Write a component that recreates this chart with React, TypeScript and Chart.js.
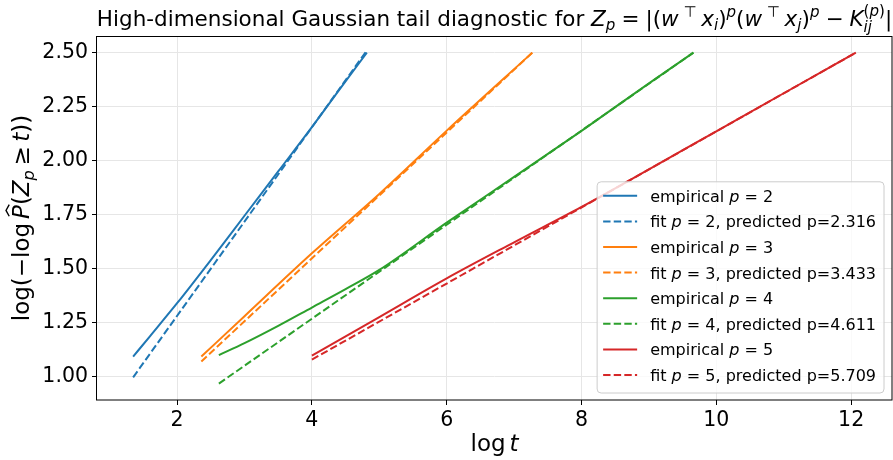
import React, { useEffect, useRef } from "react";
import { Chart, registerables } from "chart.js";

Chart.register(...registerables);

const FONT = "'DejaVu Sans', 'Liberation Sans', sans-serif";

const pValues = [2, 3, 4, 5];
const predictedP = ["2.316", "3.433", "4.611", "5.709"];
const seriesColors = ["#1f77b4", "#ff7f0e", "#2ca02c", "#d62728"];

const emp2X = [1.348, 1.6, 2.0, 2.5, 3.0, 3.5, 4.0, 4.4, 4.815];
const emp2Y = [1.093, 1.188, 1.34, 1.54, 1.745, 1.95, 2.155, 2.325, 2.5];
const fit2X = [1.348, 4.815];
const fit2Y = [0.997, 2.51];

const emp3X = [2.36, 3.0, 4.0, 5.0, 6.0, 7.27];
const emp3Y = [1.093, 1.28, 1.571, 1.846, 2.139, 2.5];
const fit3X = [2.36, 7.27];
const fit3Y = [1.07, 2.5];

const emp4X = [2.62, 3.0, 3.5, 4.0, 4.5, 5.0, 6.0, 7.0, 8.0, 9.0, 9.66];
const emp4Y = [1.1, 1.155, 1.235, 1.32, 1.405, 1.494, 1.713, 1.925, 2.138, 2.358, 2.5];
const fit4X = [2.62, 9.66];
const fit4Y = [0.968, 2.5];

const emp5X = [4.0, 5.0, 6.0, 7.0, 8.0, 9.0, 10.0, 11.0, 12.07];
const emp5Y = [1.097, 1.276, 1.455, 1.622, 1.786, 1.96, 2.136, 2.312, 2.5];
const fit5X = [4.0, 12.07];
const fit5Y = [1.079, 2.5];

const empX = [emp2X, emp3X, emp4X, emp5X];
const empY = [emp2Y, emp3Y, emp4Y, emp5Y];
const fitX = [fit2X, fit3X, fit4X, fit5X];
const fitY = [fit2Y, fit3Y, fit4Y, fit5Y];

const xTicks = [2, 4, 6, 8, 10, 12];
const yTicks = [1.0, 1.25, 1.5, 1.75, 2.0, 2.25, 2.5];
const xRange = [0.812, 12.606];
const yRange = [0.892, 2.577];

type Seg = {
  t: string;
  it?: boolean;
  s?: number;
  dy?: number;
  hat?: boolean;
  mark?: boolean;
  back?: boolean;
  end?: boolean;
  pl?: number;
  pr?: number;
};

const N = (t: string, o: Partial<Seg> = {}): Seg => ({ t, ...o });
const I = (t: string, o: Partial<Seg> = {}): Seg => ({ t, it: true, ...o });
const SUB = (t: string, o: Partial<Seg> = {}): Seg => ({ t, it: true, s: 0.7, dy: 0.2, ...o });
const SUP = (t: string, o: Partial<Seg> = {}): Seg => ({ t, it: true, s: 0.7, dy: -0.42, ...o });

function rich(ctx: CanvasRenderingContext2D, segs: Seg[], x: number, y: number, size: number, draw: boolean): number {
  let cx = x;
  let markX = x;
  let stackMax = x;
  let maxX = x;
  for (const g of segs) {
    const fs = size * (g.s ?? 1);
    ctx.font = `${g.it ? "italic " : ""}${fs}px ${FONT}`;
    if (g.back) {
      stackMax = cx;
      cx = markX;
    }
    cx += (g.pl ?? 0) * size;
    if (g.mark) markX = cx;
    const w = ctx.measureText(g.t).width;
    const yy = y + (g.dy ?? 0) * size;
    if (draw) {
      ctx.fillText(g.t, cx, yy);
      if (g.hat) {
        const c = cx + w * 0.62;
        const hw = w * 0.42;
        ctx.save();
        ctx.beginPath();
        ctx.lineWidth = fs * 0.06;
        ctx.strokeStyle = ctx.fillStyle as string;
        ctx.moveTo(c - hw, yy - fs * 0.86);
        ctx.lineTo(c, yy - fs * 1.0);
        ctx.lineTo(c + hw, yy - fs * 0.86);
        ctx.stroke();
        ctx.restore();
      }
    }
    cx += w + (g.pr ?? 0) * size;
    if (g.end) cx = Math.max(cx, stackMax);
    maxX = Math.max(maxX, cx);
  }
  return maxX - x;
}

const REL = { pl: 0.28, pr: 0.28 };
const TOP = { it: false, pl: 0.22, pr: 0.22 };

const titleSegs: Seg[] = [
  N("High-dimensional Gaussian tail diagnostic for "),
  I("Z"),
  SUB("p"),
  N("=", REL),
  N("|("),
  I("w"),
  SUP("⊤", TOP),
  I("x"),
  SUB("i"),
  N(")"),
  SUP("p"),
  N("("),
  I("w"),
  SUP("⊤", TOP),
  I("x"),
  SUB("j"),
  N(")"),
  SUP("p"),
  N("−", REL),
  I("K"),
  SUB("ij", { mark: true, dy: 0.28 }),
  SUP("(", { back: true, it: false, dy: -0.45 }),
  SUP("p", { dy: -0.45 }),
  SUP(")", { it: false, dy: -0.45, end: true }),
  N("|"),
];

const ylabelSegs: Seg[] = [
  N("log(−log"),
  I("P", { hat: true, pl: 0.17 }),
  N("("),
  I("Z"),
  SUB("p"),
  N("≥", { pl: 0.2, pr: 0.2 }),
  I("t"),
  N("))"),
];

const xlabelSegs: Seg[] = [N("log"), I("t", { pl: 0.17 })];

function legendSegs(i: number): Seg[] {
  const k = Math.floor(i / 2);
  if (i % 2 === 0) return [N("empirical "), I("p"), N(" = " + pValues[k])];
  return [N("fit "), I("p"), N(" = " + pValues[k] + ", predicted p=" + predictedP[k])];
}

const TITLE_SIZE = 21.5;
const LABEL_SIZE = 23;

const decorPlugin = {
  id: "decor",
  afterDraw(chart: any) {
    const ctx: CanvasRenderingContext2D = chart.ctx;
    const a = chart.chartArea;
    const cxm = (a.left + a.right) / 2;
    ctx.save();
    // frame
    ctx.strokeStyle = "#000";
    ctx.lineWidth = 1;
    ctx.strokeRect(a.left - 0.5, a.top + 0.5, a.right - a.left + 0.5, a.bottom - a.top - 0.5);

    ctx.fillStyle = "#000";
    ctx.textBaseline = "alphabetic";
    ctx.textAlign = "left";
    // title
    const tw = rich(ctx, titleSegs, 0, 0, TITLE_SIZE, false);
    rich(ctx, titleSegs, cxm - tw / 2, 26, TITLE_SIZE, true);
    // x label
    const xw = rich(ctx, xlabelSegs, 0, 0, LABEL_SIZE, false);
    rich(ctx, xlabelSegs, cxm - xw / 2, 451, LABEL_SIZE, true);
    // y label
    const yw = rich(ctx, ylabelSegs, 0, 0, LABEL_SIZE, false);
    ctx.save();
    ctx.translate(29, (a.top + a.bottom) / 2);
    ctx.rotate(-Math.PI / 2);
    rich(ctx, ylabelSegs, -yw / 2, 0, LABEL_SIZE, true);
    ctx.restore();

    // legend
    const fs = 16;
    const ds = chart.data.datasets;
    let maxW = 0;
    for (let i = 0; i < ds.length; i++) maxW = Math.max(maxW, rich(ctx, legendSegs(i), 0, 0, fs, false));
    const rowH = 25.6;
    const boxW = 6 + 34 + 13 + maxW + 8;
    const boxH = 14 + (ds.length - 1) * rowH + 18;
    const bx = a.right - 8 - boxW;
    const by = a.bottom - 7 - boxH;
    ctx.beginPath();
    const r = 4;
    ctx.moveTo(bx + r, by);
    ctx.arcTo(bx + boxW, by, bx + boxW, by + boxH, r);
    ctx.arcTo(bx + boxW, by + boxH, bx, by + boxH, r);
    ctx.arcTo(bx, by + boxH, bx, by, r);
    ctx.arcTo(bx, by, bx + boxW, by, r);
    ctx.closePath();
    ctx.fillStyle = "rgba(255,255,255,0.8)";
    ctx.fill();
    ctx.strokeStyle = "#cccccc";
    ctx.lineWidth = 1;
    ctx.stroke();
    for (let i = 0; i < ds.length; i++) {
      const cy = by + 14 + i * rowH;
      ctx.beginPath();
      ctx.strokeStyle = ds[i].borderColor;
      ctx.lineWidth = 2;
      ctx.setLineDash(ds[i].borderDash || []);
      ctx.moveTo(bx + 6, cy);
      ctx.lineTo(bx + 40, cy);
      ctx.stroke();
      ctx.setLineDash([]);
      ctx.fillStyle = "#000";
      rich(ctx, legendSegs(i), bx + 53, cy + 6, fs, true);
    }
    ctx.restore();
  },
};

export default function App() {
  const ref = useRef<HTMLCanvasElement | null>(null);
  useEffect(() => {
    if (!ref.current) return;
    const datasets: any[] = [];
    const n = pValues.length * 2;
    pValues.forEach((p, k) => {
      datasets.push({
        label: `empirical p = ${p}`,
        data: empX[k].map((x, i) => ({ x, y: empY[k][i] })),
        borderColor: seriesColors[k],
        backgroundColor: seriesColors[k],
        borderWidth: 2,
        pointRadius: 0,
        cubicInterpolationMode: "monotone",
        fill: false,
        order: n - 2 * k,
      });
      datasets.push({
        label: `fit p = ${p}, predicted p=${predictedP[k]}`,
        data: fitX[k].map((x, i) => ({ x, y: fitY[k][i] })),
        borderColor: seriesColors[k],
        backgroundColor: seriesColors[k],
        borderWidth: 2,
        borderDash: [7.4, 3.2],
        pointRadius: 0,
        fill: false,
        order: n - 2 * k - 1,
      });
    });
    const tickFont = { family: FONT, size: 20.5 };
    const chart = new Chart(ref.current, {
      type: "line",
      data: { datasets },
      plugins: [decorPlugin],
      options: {
        animation: false,
        responsive: false,
        devicePixelRatio: 1,
        layout: { padding: { top: 36, right: 1, left: 0, bottom: 0 } },
        plugins: { legend: { display: false }, tooltip: { enabled: false }, title: { display: false } },
        scales: {
          x: {
            type: "linear",
            min: xRange[0],
            max: xRange[1],
            afterBuildTicks: (s: any) => {
              s.ticks = xTicks.map((v) => ({ value: v }));
            },
            afterFit: (s: any) => {
              s.height = 60;
            },
            ticks: {
              font: tickFont,
              color: "#000",
              padding: 3,
              maxRotation: 0,
              autoSkip: false,
              callback: (v: any) => String(v),
            },
            grid: { color: "#e6e6e6", lineWidth: 1, tickColor: "#000", tickLength: 5 },
            border: { display: false },
          },
          y: {
            type: "linear",
            min: yRange[0],
            max: yRange[1],
            afterBuildTicks: (s: any) => {
              s.ticks = yTicks.map((v) => ({ value: v }));
            },
            afterFit: (s: any) => {
              s.width = 97;
            },
            ticks: {
              font: tickFont,
              color: "#000",
              padding: 4,
              autoSkip: false,
              callback: (v: any) => Number(v).toFixed(2),
            },
            grid: { color: "#e6e6e6", lineWidth: 1, tickColor: "#000", tickLength: 5 },
            border: { display: false },
          },
        },
      } as any,
    });
    return () => chart.destroy();
  }, []);
  return (
    <div style={{ position: "absolute", left: 0, top: 0, width: 893, height: 460, background: "#fff" }}>
      <canvas ref={ref} width={893} height={460} style={{ display: "block" }} />
    </div>
  );
}
